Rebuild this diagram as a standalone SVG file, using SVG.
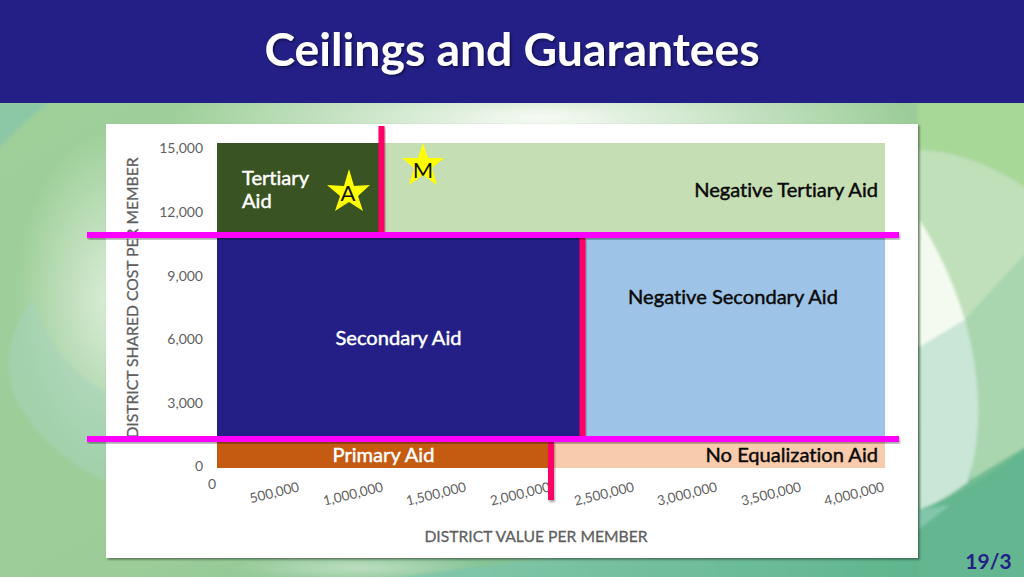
<svg xmlns="http://www.w3.org/2000/svg" width="1024" height="577" viewBox="0 0 1024 577">
<style>
text{font-family:Lato,"Liberation Sans",sans-serif;font-variant-ligatures:none}
.tick{font-size:14px;fill:#5f5f5f}
.xt{font-size:13.600px;fill:#5f5f5f}
.ax{font-size:15.7px;fill:#5f5f5f;font-weight:400;stroke:#5f5f5f;stroke-width:.3px}
.lab{font-size:20.1px;font-weight:400;stroke-width:.45px}
.w{fill:#fff;stroke:#fff}.b{fill:#0a0a0a;stroke:#0a0a0a}
.mag{fill:#ff00ff;filter:url(#s)}
.pink{fill:#ff0066;filter:url(#s)}
.star{fill:#ffff00}
.st{font-size:22px;fill:#111;text-anchor:middle}
</style>
<defs>
<linearGradient id="bg" x1="0" y1="0" x2="1" y2="1"><stop offset="0" stop-color="#9fd09a"/><stop offset="0.55" stop-color="#9ccd99"/><stop offset="1" stop-color="#62b58f"/></linearGradient>
<linearGradient id="teal" x1="0" y1="0" x2="1" y2="0"><stop offset="0" stop-color="#86c8ac"/><stop offset="1" stop-color="#5fb58d"/></linearGradient>
<radialGradient id="glow" cx="0.5" cy="0.5" r="0.5"><stop offset="0" stop-color="#f7fbf5" stop-opacity="1"/><stop offset="1" stop-color="#f7fbf5" stop-opacity="0"/></radialGradient>
<filter id="soft"><feGaussianBlur stdDeviation="1.5"/></filter>
<filter id="s" x="-10%" y="-10%" width="130%" height="130%"><feDropShadow dx="1" dy="2" stdDeviation="1.2" flood-color="#000" flood-opacity="0.35"/></filter>
<filter id="ps" x="-3%" y="-3%" width="106%" height="106%"><feDropShadow dx="1.5" dy="1.5" stdDeviation="1.2" flood-color="#000" flood-opacity="0.45"/></filter>
<filter id="ts"><feDropShadow dx="1.500" dy="1.500" stdDeviation="1" flood-color="#000" flood-opacity="0.5"/></filter>
</defs>
<g id="background" filter="url(#soft)">
<rect x="-5" y="-5" width="1034" height="587" fill="url(#bg)"/>
<path d="M-5 103H48Q20 125 -5 152Z" fill="#8cc8a6"/>
<ellipse cx="115" cy="300" rx="100" ry="170" fill="url(#glow)" opacity="0.7"/>
<path d="M33 300Q-2 340 14 395Q40 450 106 482V392Q55 365 33 300Z" fill="#a6d4bb" opacity="0.55"/>
<ellipse cx="540" cy="118" rx="370" ry="55" fill="url(#glow)"/>
<path d="M918 103V150Q970 150 1029 190V103Z" fill="#a8d898"/>
<path d="M918 150Q970 150 1029 190V250L965 320L918 347Z" fill="#c0e0b9"/>
<path d="M965 320L1029 250V445L970 480Q982 400 965 320Z" fill="#a9d6af"/>
<path d="M920 220Q950 270 965 320L920 347Z" fill="#f4faf0"/>
<path d="M920 347L965 320Q990 410 968 482Q945 500 920 510Z" fill="#c9e6d6"/>
<path d="M918 510Q975 490 1029 445V582H918Z" fill="#64b690"/>
<path d="M918 510V530L950 505Z" fill="#82c6ac"/>
<ellipse cx="360" cy="568" rx="130" ry="14" fill="url(#glow)" opacity="0.45"/>
<path d="M370 582Q450 568 560 558H918V582Z" fill="url(#teal)"/>
</g>
<g id="header">
<rect width="1024" height="103" fill="#231f87"/>
<text x="512" y="65.500" font-size="46.300" font-weight="700" fill="#fff" text-anchor="middle" filter="url(#ts)">Ceilings and Guarantees</text>
</g>
<g id="panel"><rect x="106" y="124" width="812" height="434" fill="#fff" filter="url(#ps)"/></g>
<g id="axes">
<g class="tick" text-anchor="end">
<text x="203" y="153">15,000</text><text x="203" y="216.500">12,000</text><text x="203" y="280.500">9,000</text><text x="203" y="344">6,000</text><text x="203" y="407.500">3,000</text><text x="203" y="471">0</text>
</g>
<text class="tick" x="212" y="489" text-anchor="middle">0</text>
<g class="xt" text-anchor="end">
<text transform="translate(300,491) rotate(-14)">500,000</text>
<text transform="translate(384,491) rotate(-14)">1,000,000</text>
<text transform="translate(467,491) rotate(-14)">1,500,000</text>
<text transform="translate(551,491) rotate(-14)">2,000,000</text>
<text transform="translate(635,491) rotate(-14)">2,500,000</text>
<text transform="translate(718,491) rotate(-14)">3,000,000</text>
<text transform="translate(802,491) rotate(-14)">3,500,000</text>
<text transform="translate(885,491) rotate(-14)">4,000,000</text>
</g>
<text class="ax" x="536" y="542" text-anchor="middle">DISTRICT VALUE PER MEMBER</text>
<text class="ax" transform="translate(137.500,298) rotate(-90)" text-anchor="middle">DISTRICT SHARED COST PER MEMBER</text>
</g>
<g id="tertiary-aid"><rect x="217" y="143" width="164" height="90" fill="#3a5322"/>
<text class="lab w" x="242" y="185">Tertiary</text><text class="lab w" x="242" y="208">Aid</text></g>
<g id="negative-tertiary-aid"><rect x="381" y="143" width="504" height="90" fill="#c6deb4"/>
<text class="lab b" x="878" y="196.500" text-anchor="end">Negative Tertiary Aid</text></g>
<g id="secondary-aid"><rect x="217" y="236" width="365" height="202" fill="#231f87"/>
<text class="lab w" x="398.500" y="345" text-anchor="middle">Secondary Aid</text></g>
<g id="negative-secondary-aid"><rect x="582" y="236" width="303" height="202" fill="#9dc3e6"/>
<text class="lab b" x="733" y="304" text-anchor="middle">Negative Secondary Aid</text></g>
<g id="primary-aid"><rect x="217" y="440" width="334" height="28" fill="#c55a11"/>
<text class="lab w" x="383.500" y="462" text-anchor="middle">Primary Aid</text></g>
<g id="no-equalization-aid"><rect x="551" y="440" width="334" height="28" fill="#f8cbad"/>
<text class="lab b" x="878" y="462" text-anchor="end">No Equalization Aid</text></g>
<g id="connectors">
<rect class="pink" x="378.500" y="126" width="6" height="108"/>
<rect class="pink" x="579.500" y="238" width="6" height="199"/>
<rect class="pink" x="548" y="441" width="6" height="59"/>
<rect class="mag" x="87" y="232" width="812" height="6"/>
<rect class="mag" x="87" y="436" width="812" height="6"/>
</g>
<g id="star-a"><polygon class="star" points="349,169 354,186 370,185 358,196 363,211 349,202 335,211 340,196 327,185 344,186"/><text class="st" x="348" y="200.500">A</text></g>
<g id="star-m"><polygon class="star" points="423,143 428,158 444,158 432,168 437,185 423,175 409,185 414,168 402,158 418,158"/><text class="st" x="423" y="177.500">M</text></g>
<text id="page" x="988.500" y="569" font-size="21" font-weight="700" fill="#231f87" text-anchor="middle">19/3</text>
</svg>
